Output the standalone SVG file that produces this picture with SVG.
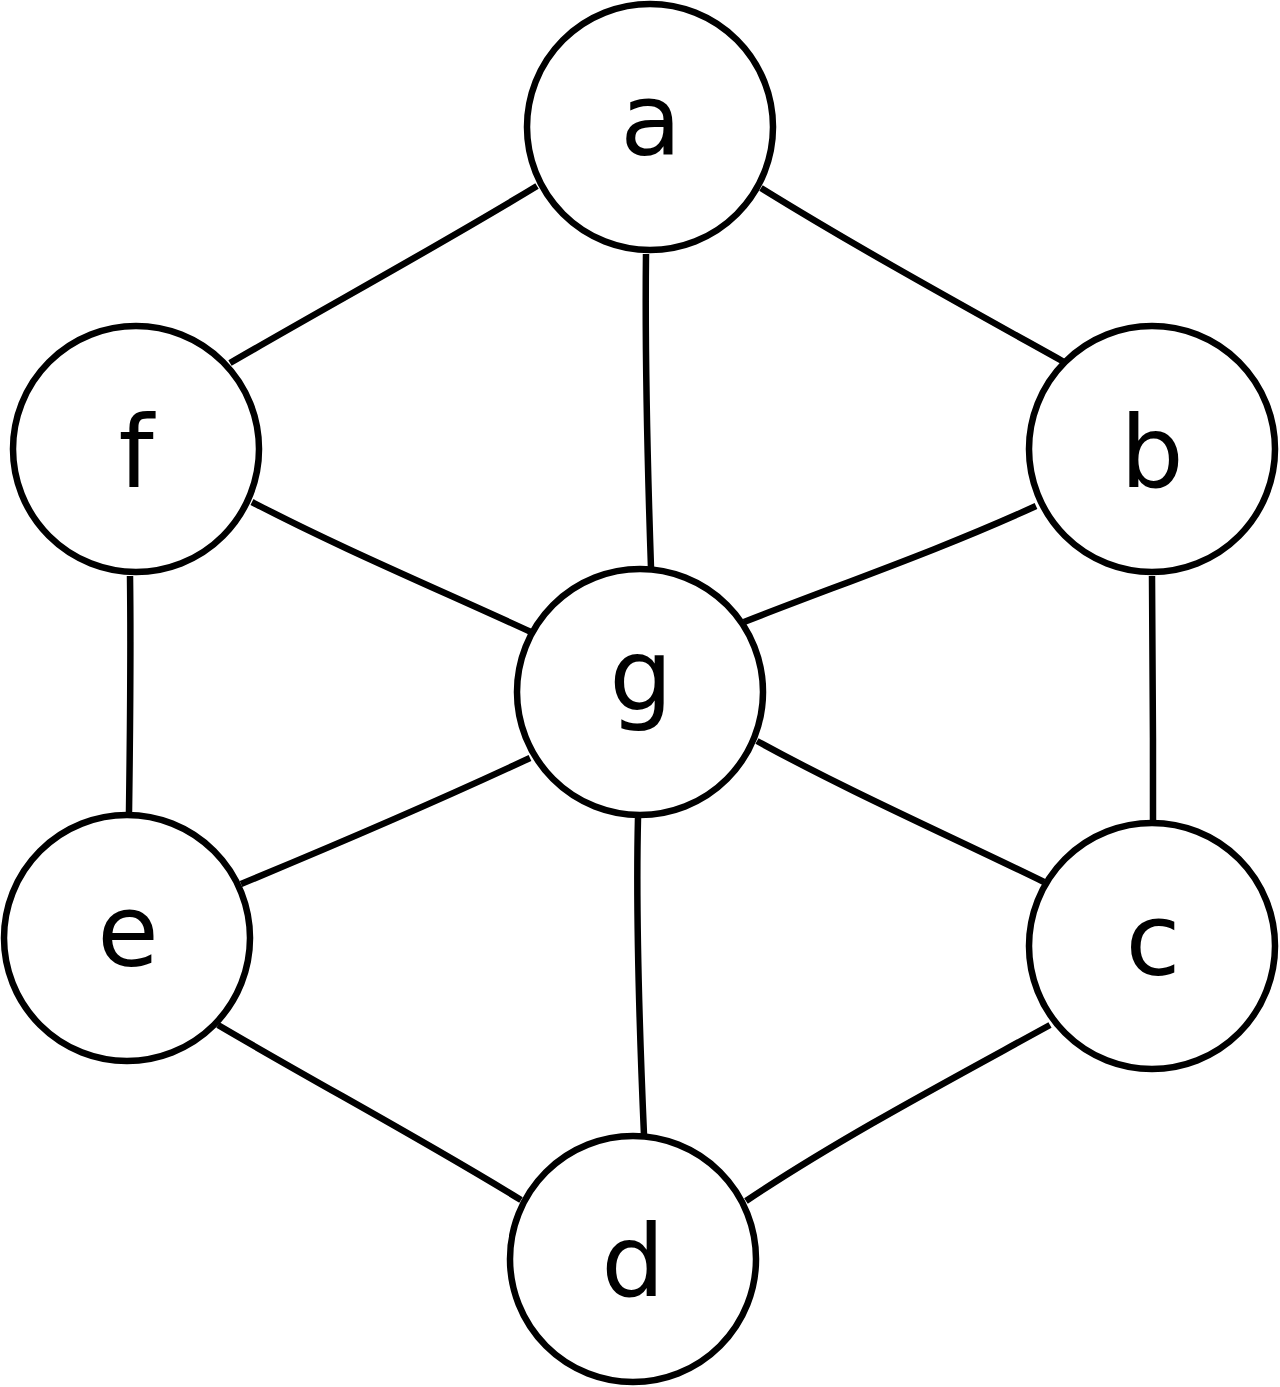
<svg xmlns="http://www.w3.org/2000/svg" width="1280" height="1387" viewBox="0 0 1280 1387">
<style>
.n circle{fill:#fff;stroke:#000;stroke-width:6.5}
.n text{font-family:"DejaVu Sans",sans-serif;font-size:100px;text-anchor:middle;fill:#000}
.e path{fill:none;stroke:#000;stroke-width:6.5}
</style>
<rect width="1280" height="1387" fill="#fff"/>
<g id="edges" class="e">
<path d="M537,186 C440,245 330,305 230,363"/>
<path d="M761,188 C858,248 960,304 1064,362"/>
<path d="M646,254 C645,340 647,450 651,568"/>
<path d="M252,502 C340,548 440,590 531,632"/>
<path d="M1036,506 C940,550 841,584 744,622"/>
<path d="M130,576 C131,650 130,740 129,812"/>
<path d="M1152,576 C1153,650 1153,740 1153,822"/>
<path d="M530,758 C440,800 340,843 241,884"/>
<path d="M757,741 C850,792 950,836 1044,882"/>
<path d="M638,818 C636,900 639,1020 644,1135"/>
<path d="M218,1025 C320,1085 420,1138 521,1200"/>
<path d="M1050,1025 C950,1080 840,1138 746,1201"/>
</g>
<g id="node-a" class="n"><circle cx="650" cy="127" r="123"/><text x="651" y="155">a</text></g>
<g id="node-b" class="n"><circle cx="1152" cy="449" r="123"/><text x="1152" y="487">b</text></g>
<g id="node-c" class="n"><circle cx="1152" cy="946" r="123"/><text x="1153" y="975">c</text></g>
<g id="node-d" class="n"><circle cx="633" cy="1259" r="123"/><text x="633" y="1296">d</text></g>
<g id="node-e" class="n"><circle cx="127" cy="938" r="123"/><text x="128" y="966">e</text></g>
<g id="node-f" class="n"><circle cx="136" cy="449" r="123"/><text x="136" y="487">f</text></g>
<g id="node-g" class="n"><circle cx="640" cy="692" r="123"/><text x="641" y="710">g</text></g>
</svg>
